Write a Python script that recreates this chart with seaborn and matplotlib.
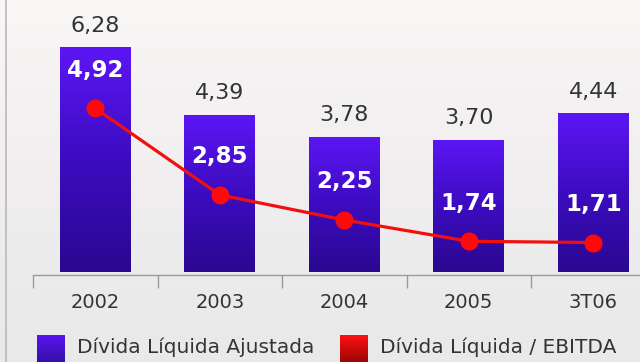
import numpy as np
import pandas as pd
import matplotlib
matplotlib.use("Agg")
import matplotlib.pyplot as plt
import seaborn as sns
from matplotlib.colors import LinearSegmentedColormap
from matplotlib.lines import Line2D

periods = ["2002", "2003", "2004", "2005", "3T06"]
divida_ajustada = [6.28, 4.39, 3.78, 3.70, 4.44]
divida_ebitda = [4.92, 2.85, 2.25, 1.74, 1.71]
ajustada_labels = ["6,28", "4,39", "3,78", "3,70", "4,44"]
ebitda_labels = ["4,92", "2,85", "2,25", "1,74", "1,71"]
legend_names = ["Dívida Líquida Ajustada", "Dívida Líquida / EBITDA"]

df = pd.DataFrame({"periodo": periods,
                   "ajustada": divida_ajustada,
                   "ebitda": divida_ebitda})

sns.set_theme(style="white")
plt.rcParams["font.family"] = ["DejaVu Sans"]

W, H = 640, 362
fig = plt.figure(figsize=(W / 100, H / 100), dpi=100)
fig.patch.set_facecolor("#f2f0f0")

# soft vertical background gradient
bg = fig.add_axes([0, 0, 1, 1], zorder=-10)
bg_cmap = LinearSegmentedColormap.from_list("bg", ["#e9e9e9", "#f0eeee", "#f9f6f6"])
bg.imshow(np.linspace(0, 1, 256).reshape(-1, 1), cmap=bg_cmap, aspect="auto",
          origin="lower", extent=[0, 1, 0, 1])
bg.set_axis_off()

# left frame line
fig.add_artist(Line2D([6 / W, 6 / W], [0, 1], transform=fig.transFigure,
                      color="#b9b9b9", lw=1.2))

def px_box(left, top, right, bottom):
    return [left / W, 1 - bottom / H, (right - left) / W, (bottom - top) / H]

ax = fig.add_axes(px_box(33, 0, 640, 275))
ax.set_facecolor("none")

sns.barplot(data=df, x="periodo", y="ajustada", ax=ax, width=0.57,
            color="#4a10d0", saturation=1, linewidth=0, zorder=2)

bar_cmap = LinearSegmentedColormap.from_list("bar", ["#2a0890", "#3c0cc0", "#5c16f4"])
grad = np.linspace(0, 1, 256).reshape(-1, 1)
for patch in list(ax.patches):
    x0, y0 = patch.get_x(), patch.get_y()
    w, h = patch.get_width(), patch.get_height()
    im = ax.imshow(grad, extent=[x0, x0 + w, y0, y0 + h], cmap=bar_cmap,
                   aspect="auto", origin="lower", zorder=2, interpolation="bilinear")
    im.set_clip_path(patch)
    patch.set_facecolor("none")

ax.set_xlim(-0.5, 4.375)
ax.set_ylim(-0.084, 7.598)

for i, (v, lab) in enumerate(zip(divida_ajustada, ajustada_labels)):
    ax.annotate(lab, (i, v), xytext=(0, 15.5), textcoords="offset points",
                ha="center", va="center", fontsize=16, color="#333333")

for side in ["top", "right", "left"]:
    ax.spines[side].set_visible(False)
ax.spines["bottom"].set_color("#9a9a9a")
ax.spines["bottom"].set_linewidth(1)
ax.set_yticks([])
ax.set_xticks(np.arange(len(periods)))
ax.set_xticklabels(periods, fontsize=14, color="#333333")
ax.tick_params(axis="x", which="major", length=0, pad=13)
ax.set_xticks(np.arange(len(periods) + 1) - 0.5, minor=True)
ax.tick_params(axis="x", which="minor", length=9, width=1, color="#9a9a9a",
               direction="out", bottom=True)
ax.set_xlabel("")
ax.set_ylabel("")

ax2 = ax.twinx()
ax2.set_facecolor("none")
sns.lineplot(data=df, x="periodo", y="ebitda", ax=ax2, color="#f01010",
             lw=2.3, marker="o", markersize=13, markeredgewidth=0,
             markerfacecolor="#ff0a0a", zorder=3)
ax2.set_ylim(0.933, 7.512)
ax2.set_xlim(-0.5, 4.375)
for i, (v, lab) in enumerate(zip(divida_ebitda, ebitda_labels)):
    ax2.annotate(lab, (i, v), xytext=(0, 27.5), textcoords="offset points",
                 ha="center", va="center", fontsize=16.5, fontweight="bold",
                 color="white")
for side in ["top", "right", "left", "bottom"]:
    ax2.spines[side].set_visible(False)
ax2.set_yticks([])
ax2.set_ylabel("")
ax2.set_xlabel("")

# legend swatches with gradients
def swatch(left, colors):
    sax = fig.add_axes(px_box(left, 335, left + 28, 362))
    cm = LinearSegmentedColormap.from_list("sw", colors)
    sax.imshow(np.linspace(0, 1, 64).reshape(-1, 1), cmap=cm, aspect="auto",
               origin="lower", extent=[0, 1, 0, 1])
    sax.set_axis_off()

swatch(37, ["#3410a8", "#5a14f0"])
swatch(340, ["#9a0606", "#ff1010"])
fig.text(77 / W, 1 - 347 / H, legend_names[0], fontsize=14.5, color="#333333",
         ha="left", va="center")
fig.text(380 / W, 1 - 347 / H, legend_names[1], fontsize=14.5, color="#333333",
         ha="left", va="center")

fig.savefig("out.png", dpi=100, facecolor=fig.get_facecolor())
